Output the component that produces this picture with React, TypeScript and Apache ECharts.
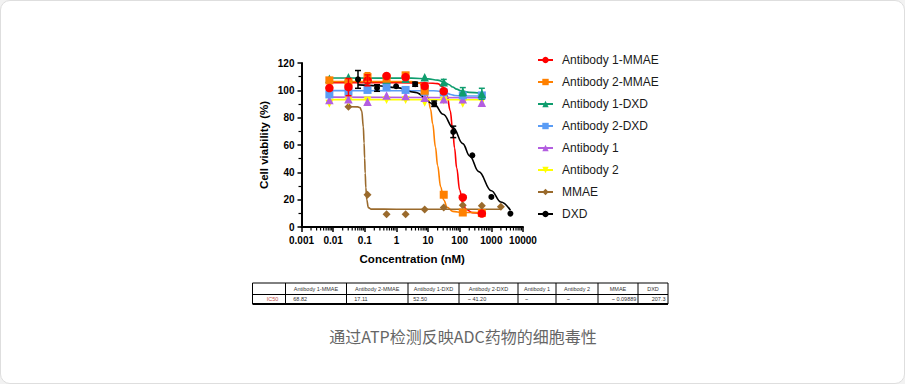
import React, { useEffect, useRef } from 'react';
import * as echarts from 'echarts';

// ---------- data ----------
const seriesNames = ['Antibody 1-MMAE', 'Antibody 2-MMAE', 'Antibody 1-DXD', 'Antibody 2-DXD', 'Antibody 1', 'Antibody 2', 'MMAE', 'DXD'];

const antibodyConc = [0.0076, 0.0305, 0.122, 0.488, 1.95, 7.81, 31.25, 125, 500];
const mmaeConc = [0.0305, 0.122, 0.488, 1.95, 7.81, 31.25, 125, 500, 2000];
const dxdConc = [0.061, 0.244, 0.977, 3.9, 15.6, 62.5, 250, 1000, 4000];

const ab1MmaeVals = [101.7, 102.4, 107.3, 110.5, 109.7, 103.1, 99.3, 21.6, 9.8];
const ab2MmaeVals = [107.3, 106.0, 109.7, 108.5, 111.0, 99.7, 23.6, 10.6, 10.2];
const ab1DxdVals = [108.5, 109.5, 108.5, 108.0, 108.5, 109.5, 106.0, 99.0, 97.5];
const ab2DxdVals = [97.0, 99.0, 100.3, 102.3, 100.3, 99.0, 98.5, 96.3, 96.3];
const ab1Vals = [93.0, 93.4, 91.7, 96.3, 95.9, 94.5, 93.4, 93.5, 91.0];
const ab2Vals = [90.2, 92.0, 92.5, 93.0, 93.0, 91.0, 92.6, 90.2, 92.0];
const mmaeVals = [88.0, 23.6, 9.3, 9.3, 12.8, 14.3, 16.0, 15.5, 14.8];
const dxdVals = [108.0, 101.7, 103.0, 104.5, 90.2, 69.6, 52.4, 22.0, 9.8];

// fitted curves as [concentration, viability]
const ab1MmaeCurve = [[0.0076, 105.5], [1, 105.5], [10, 105.4], [20, 104.9], [30, 102.4], [40, 96.2], [50, 85.2], [60, 70.8], [68.8, 57.8], [80, 43.4], [100, 27], [125, 17.6], [160, 12.9], [250, 10.5], [500, 10.1]];
const ab2MmaeCurve = [[0.0076, 106.5], [1, 106.5], [3, 106.4], [5, 105.5], [7.8, 101.5], [10, 94.9], [12, 86.2], [14, 75.5], [17.11, 58.5], [20, 45], [25, 29.5], [31.25, 19.8], [40, 14.5], [60, 11.4], [125, 10.6], [500, 10.5]];
const ab1DxdCurve = [[0.0076, 109], [3, 108.9], [10, 108.4], [20, 107.5], [31.25, 106.3], [45, 104.3], [60, 102.4], [80, 100.9], [110, 99.6], [200, 98.5], [500, 97.9]];
const ab2DxdCurve = [[0.0076, 99.8], [15, 99.7], [25, 99.3], [33, 98.6], [41.2, 97.8], [52, 96.9], [70, 96.2], [120, 95.9], [500, 95.8]];
const ab1Curve = [[0.0076, 95.0], [500, 94.6]];
const ab2Curve = [[0.0076, 93.2], [500, 93.1]];
const mmaeCurve = [[0.0305, 88], [0.06, 87.9], [0.07, 87.4], [0.08, 85], [0.09, 73.3], [0.095, 61.5], [0.0989, 50.5], [0.103, 39.4], [0.108, 28.8], [0.115, 20.1], [0.13, 14.2], [0.16, 13.1], [1, 13], [2000, 13]];
const dxdCurve = [[0.061, 104], [0.244, 103.4], [1, 102], [3.9, 98.5], [15.6, 90], [30, 82.5], [62.5, 72.5], [125, 61], [207, 52], [400, 40.5], [1000, 26.5], [2000, 18.3], [4000, 12.2]];

// error bars: [series index, concentration, mean, sd]
const errorBars = [
  [7, 0.061, 108, 6.5], [0, 0.0305, 102.4, 6.3], [1, 0.122, 109.7, 3.2], [0, 0.122, 107.3, 4],
  [7, 0.244, 101.7, 2.4], [7, 3.9, 104.5, 1.5], [7, 15.6, 90.2, 2], [7, 62.5, 69.6, 4.2],
  [2, 125, 99, 3], [2, 500, 97.5, 4], [2, 31.25, 106, 2],
];

const xTickLabels = ['0.001', '0.01', '0.1', '1', '10', '100', '1000', '10000'];

const tableHeaders = ['', 'Antibody 1-MMAE', 'Antibody 2-MMAE', 'Antibody 1-DXD', 'Antibody 2-DXD', 'Antibody 1', 'Antibody 2', 'MMAE', 'DXD'];
const tableValues = ['IC50', '68.82', '17.11', '52.50', '~ 41.20', '~', '~', '~ 0.09889', '207.3'];
const caption = '通过ATP检测反映ADC药物的细胞毒性';

// ---------- styles / layout ----------
const colors = ['#ff0000', '#ff8000', '#0f9d6e', '#5a9cf5', '#b35ee0', '#ffff00', '#9a6a2c', '#000000'];
const symbols = ['circle', 'rect', 'triangle', 'rect', 'triangle', 'path://M0,0L10,0L5,9Z', 'diamond', 'circle'];
const symbolSizes = [8.5, 8, 8.5, 8, 8.5, 8, 8, 6];
const colEdges = [252.5, 285.5, 346.5, 408, 459, 518, 556, 598, 638, 668];
const valueX = [266.7, 293.3, 354.3, 413.3, 467.7, 525, 566.7, 611.7, 651.7];

const FONT = '"Liberation Sans", Arial, sans-serif';

function buildOption() {
  const pointSets = [ab1MmaeVals, ab2MmaeVals, ab1DxdVals, ab2DxdVals, ab1Vals, ab2Vals, mmaeVals, dxdVals];
  const concSets = [antibodyConc, antibodyConc, antibodyConc, antibodyConc, antibodyConc, antibodyConc, mmaeConc, dxdConc];
  const curves = [ab1MmaeCurve, ab2MmaeCurve, ab1DxdCurve, ab2DxdCurve, ab1Curve, ab2Curve, mmaeCurve, dxdCurve];

  const series: any[] = [];
  seriesNames.forEach((name, i) => {
    series.push({
      type: 'line',
      name,
      data: curves[i],
      smooth: 0.4,
      smoothMonotone: 'x',
      showSymbol: false,
      symbol: symbols[i],
      symbolSize: symbolSizes[i],
      itemStyle: { color: colors[i] },
      lineStyle: { color: colors[i], width: 1.6 },
      z: 2,
      silent: true,
    });
  });
  for (let i = seriesNames.length - 1; i >= 0; i--) {
    series.push({
      type: 'scatter',
      name: seriesNames[i],
      data: concSets[i].map((c, k) => [c, pointSets[i][k]]),
      symbol: symbols[i],
      symbolSize: symbolSizes[i],
      itemStyle: { color: colors[i], opacity: 1 },
      z: 3,
      silent: true,
    });
  }
  series.push({
    type: 'custom',
    name: 'errorbars',
    data: errorBars.map((e) => [e[1], e[2], e[3], e[0]]),
    encode: { x: 0, y: 1 },
    clip: false,
    silent: true,
    z: 4,
    renderItem: (params: any, api: any) => {
      const x = api.value(0);
      const y = api.value(1);
      const e = api.value(2);
      const c = colors[api.value(3)];
      const hi = api.coord([x, y + e]);
      const lo = api.coord([x, y - e]);
      const w = 3;
      return {
        type: 'group',
        children: [
          { type: 'line', shape: { x1: hi[0], y1: hi[1], x2: lo[0], y2: lo[1] }, style: { stroke: c, lineWidth: 1.5 } },
          { type: 'line', shape: { x1: hi[0] - w, y1: hi[1], x2: hi[0] + w, y2: hi[1] }, style: { stroke: c, lineWidth: 1.5 } },
          { type: 'line', shape: { x1: lo[0] - w, y1: lo[1], x2: lo[0] + w, y2: lo[1] }, style: { stroke: c, lineWidth: 1.5 } },
        ],
      };
    },
  });
  const minorTicks: number[][] = [];
  for (let d = -3; d < 4; d++) {
    for (let k = 2; k < 10; k++) minorTicks.push([k * Math.pow(10, d), 0]);
  }
  series.push({
    type: 'custom',
    name: 'minorTicks',
    data: minorTicks,
    encode: { x: 0, y: 1 },
    clip: false,
    silent: true,
    z: 5,
    renderItem: (params: any, api: any) => {
      const p = api.coord([api.value(0), 0]);
      return { type: 'line', shape: { x1: p[0], y1: p[1], x2: p[0], y2: p[1] + 3.5 }, style: { stroke: '#000', lineWidth: 1.2 } };
    },
  });

  const graphics: any[] = [];
  const tTop = 283, tMid = 294.5, tBot = 304;
  graphics.push({ type: 'line', shape: { x1: colEdges[0], y1: tTop, x2: colEdges[colEdges.length - 1], y2: tTop }, style: { stroke: '#000', lineWidth: 1 } });
  graphics.push({ type: 'line', shape: { x1: colEdges[0], y1: tMid, x2: colEdges[colEdges.length - 1], y2: tMid }, style: { stroke: '#000', lineWidth: 1 } });
  graphics.push({ type: 'line', shape: { x1: colEdges[0], y1: tBot, x2: colEdges[colEdges.length - 1], y2: tBot }, style: { stroke: '#000', lineWidth: 2.2 } });
  colEdges.forEach((x) => {
    graphics.push({ type: 'line', shape: { x1: x, y1: tTop, x2: x, y2: tBot }, style: { stroke: '#000', lineWidth: 1 } });
  });
  tableHeaders.forEach((h, i) => {
    if (!h) return;
    graphics.push({
      type: 'text',
      style: { text: h, x: (colEdges[i] + colEdges[i + 1]) / 2, y: 289, align: 'center', verticalAlign: 'middle', fontSize: 5.5, fontFamily: FONT, fill: '#333' },
    });
  });
  tableValues.forEach((v, i) => {
    graphics.push({
      type: 'text',
      style: { text: v, x: valueX[i], y: 299, align: 'left', verticalAlign: 'middle', fontSize: 5.5, fontFamily: FONT, fill: i === 0 ? '#c0504d' : '#333' },
    });
  });
  graphics.push({
    type: 'text',
    style: { text: caption, x: 463, y: 336, align: 'center', verticalAlign: 'middle', fontSize: 16, fontFamily: '"Noto Sans CJK SC", sans-serif', fill: '#666' },
  });

  return {
    animation: false,
    backgroundColor: 'transparent',
    grid: { left: 301.5, right: 905 - 523, top: 63, bottom: 384 - 227, containLabel: false, outerBoundsMode: 'none' },
    legend: {
      data: seriesNames,
      orient: 'vertical',
      left: 537,
      top: 54,
      padding: 0,
      itemGap: 10,
      itemWidth: 15,
      itemHeight: 8,
      textStyle: { fontSize: 12, fontFamily: FONT, color: '#1a1a1a', padding: [0, 0, 0, 4] },
      selectedMode: false,
    },
    xAxis: {
      type: 'log',
      logBase: 10,
      min: 0.001,
      max: 10000,
      splitNumber: 7,
      name: 'Concentration (nM)',
      nameLocation: 'middle',
      nameGap: 26,
      nameTextStyle: { fontSize: 11.5, fontWeight: 'bold', fontFamily: FONT, color: '#000' },
      axisLine: { show: true, lineStyle: { color: '#000', width: 2 } },
      axisTick: { show: true, length: 5, lineStyle: { color: '#000', width: 1.5 } },
      axisLabel: {
        margin: 8,
        fontSize: 10,
        fontWeight: 'bold',
        fontFamily: FONT,
        color: '#000',
        formatter: (v: number) => xTickLabels[Math.round(Math.log10(v)) + 3] ?? '',
      },
      splitLine: { show: false },
    },
    yAxis: {
      type: 'value',
      min: 0,
      max: 120,
      interval: 20,
      name: 'Cell viability (%)',
      nameLocation: 'middle',
      nameGap: 32,
      nameRotate: 90,
      nameTextStyle: { fontSize: 11.5, fontWeight: 'bold', fontFamily: FONT, color: '#000' },
      axisLine: { show: true, lineStyle: { color: '#000', width: 2 } },
      axisTick: { show: true, length: 4, lineStyle: { color: '#000', width: 1.5 } },
      minorTick: { show: true, splitNumber: 2, length: 3, lineStyle: { color: '#000', width: 1.2 } },
      axisLabel: { margin: 7, fontSize: 10, fontWeight: 'bold', fontFamily: FONT, color: '#000' },
      splitLine: { show: false },
      minorSplitLine: { show: false },
    },
    graphic: graphics,
    series,
  };
}

export default function App() {
  const ref = useRef<HTMLDivElement>(null);
  useEffect(() => {
    document.body.style.margin = '0';
    const chart = echarts.init(ref.current as HTMLDivElement, null, { renderer: 'svg' });
    chart.setOption(buildOption() as any);
    return () => chart.dispose();
  }, []);
  return (
    <div style={{ position: 'relative', width: 905, height: 384, background: '#f2f2f2' }}>
      <div style={{ position: 'absolute', left: 0, top: 0, width: 905, height: 384, background: '#fff', border: '1.5px solid #dedede', borderRadius: 10, boxSizing: 'border-box' }} />
      <div ref={ref} style={{ position: 'absolute', left: 0, top: 0, width: 905, height: 384 }} />
    </div>
  );
}
